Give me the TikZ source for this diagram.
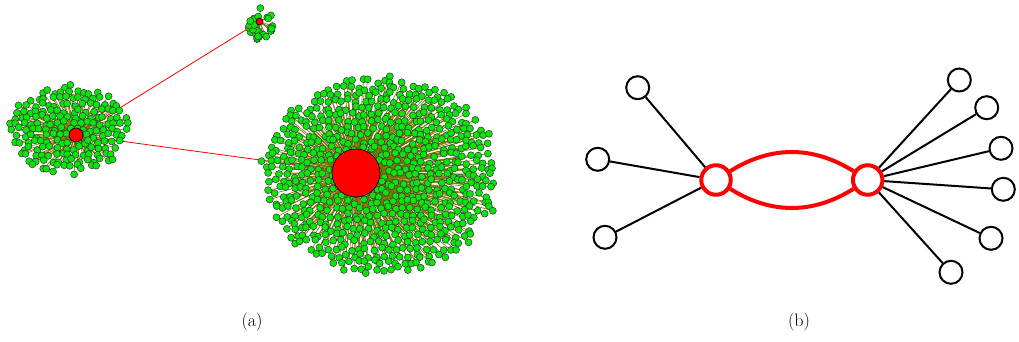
\documentclass[tikz,border=0pt]{standalone}
\usetikzlibrary{calc}
\definecolor{leafgreen}{RGB}{10,230,10}
\definecolor{spokecol}{RGB}{118,116,0}
\tikzset{
  leaf/.style={circle, draw=black!80, line width=0.5pt, fill=leafgreen, minimum size=7pt, inner sep=0pt},
  hubA/.style={circle, draw=black, line width=0.6pt, fill=red, inner sep=0pt},
  spoke/.style={draw=spokecol, line width=0.6pt},
  link/.style={draw=red, line width=0.8pt},
  hubB/.style={circle, draw=red, line width=4pt, fill=white, minimum size=29.5pt, inner sep=0pt},
  leafB/.style={circle, draw=black, line width=2pt, fill=white, minimum size=23pt, inner sep=0pt},
  edgeB/.style={draw=black, line width=2pt},
  redB/.style={draw=red, line width=4pt},
  lab/.style={font=\fontsize{18}{21}\selectfont, inner sep=0pt}
}
% #1 = 0: define points and draw spokes; 1: draw leaves
\newcommand\bigcluster[1]{%
  \pgfmathsetseed{11}%
  \foreach \r in {0,...,30}{\foreach \c in {0,...,34}{%
    \pgfmathsetmacro{\gx}{(\c-17)*7.6+mod(\r,2)*3.8+2.6*rand}%
    \pgfmathsetmacro{\gy}{(\r-15)*6.7+2.6*rand}%
    \pgfmathsetmacro{\dd}{(\gx/114)^2+(\gy/97)^2-0.12*rnd}%
    \ifdim\dd pt<1pt
      \ifnum#1=0
        \coordinate (pB\r-\c) at ($(cC)+(\gx,\gy)$);
        \draw[spoke] (cB) -- (pB\r-\c);
      \else
        \node[leaf] (B\r-\c) at (pB\r-\c) {};
      \fi
    \fi
  }}%
}
\newcommand\midcluster[1]{%
  \pgfmathsetseed{23}%
  \foreach \r in {0,...,16}{\foreach \c in {0,...,18}{%
    \pgfmathsetmacro{\gx}{(\c-9)*7.0+mod(\r,2)*3.5+2.4*rand}%
    \pgfmathsetmacro{\gy}{(\r-8)*6.2+2.4*rand}%
    \pgfmathsetmacro{\dd}{(\gx/57)^2+(\gy/43)^2-0.12*rnd}%
    \ifdim\dd pt<1pt
      \ifnum#1=0
        \coordinate (pM\r-\c) at ($(cD)+(\gx,\gy)$);
        \draw[spoke] (cM) -- (pM\r-\c);
      \else
        \node[leaf] (M\r-\c) at (pM\r-\c) {};
      \fi
    \fi
  }}%
}
\begin{document}
\begin{tikzpicture}[x=1pt,y=-1pt]
\useasboundingbox (0,0) rectangle (1019,342);
% ---------- (a) ----------
\coordinate (cB) at (356,173);
\coordinate (cC) at (380.5,175);
\coordinate (cM) at (76,135);
\coordinate (cD) at (69,129.5);
\coordinate (cS) at (259.5,21.5);
\draw[link] (cM) -- (cS);
\draw[link] (cM) -- (cB);
\bigcluster{0}
\midcluster{0}
\pgfmathsetseed{4242}
\foreach \i in {1,...,28}{
  \pgfmathsetmacro{\ang}{360*rnd}
  \pgfmathsetmacro{\rad}{sqrt(0.25+0.75*rnd)}
  \pgfmathsetmacro{\px}{261+13.5*\rad*cos(\ang)}
  \pgfmathsetmacro{\py}{24+16*\rad*sin(\ang)}
  \coordinate (S\i) at (\px,\py);
  \draw[spoke] (cS) -- (S\i);
}
\bigcluster{1}
\midcluster{1}
\foreach \i in {1,...,28}{\node[leaf] (nS\i) at (S\i) {};}
% hubs
\node[hubA, minimum size=48pt] (HB) at (cB) {};
\node[hubA, minimum size=14pt] (HM) at (cM) {};
\node[hubA, minimum size=7pt] (HS) at (cS) {};
\node[lab] (la) at (252,322) {(a)};
% ---------- (b) ----------
\node[hubB] (L) at (716,180) {};
\node[hubB] (R) at (867.7,180) {};
\node[leafB] (l1) at (637.7,87.7) {};
\node[leafB] (l2) at (597.7,159.3) {};
\node[leafB] (l3) at (605,237.3) {};
\node[leafB] (r1) at (959.3,80) {};
\node[leafB] (r2) at (986.7,107.7) {};
\node[leafB] (r3) at (1001,148.3) {};
\node[leafB] (r4) at (1003.3,189.3) {};
\node[leafB] (r5) at (991,238.3) {};
\node[leafB] (r6) at (951,272.3) {};
\foreach \n in {l1,l2,l3}{\draw[edgeB] (L) -- (\n);}
\foreach \n in {r1,r2,r3,r4,r5,r6}{\draw[edgeB] (R) -- (\n);}
\draw[redB] (L) to[out=32,in=148] (R);
\draw[redB] (L) to[out=-32,in=-148] (R);
\node[lab] (lb) at (799,322) {(b)};
\end{tikzpicture}
\end{document}
